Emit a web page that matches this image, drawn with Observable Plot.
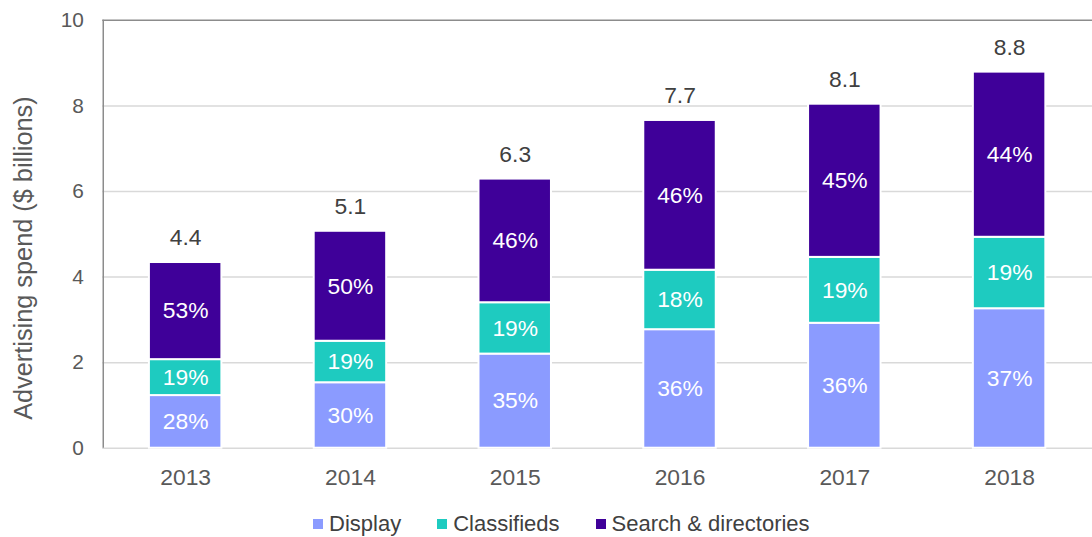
<!DOCTYPE html>
<html>
<head>
<meta charset="utf-8">
<script src="https://cdn.jsdelivr.net/npm/d3@7"></script>
<script src="https://cdn.jsdelivr.net/npm/@observablehq/plot@0.6"></script>
<style>
  html, body { margin: 0; padding: 0; background: #fff; overflow: hidden; width: 1092px; height: 537px; }
  #chart svg { display: block; }
  .legend { display: flex; align-items: center; padding-top: 21px; padding-left: 313px; font-family: "Liberation Sans", Arial, sans-serif; font-size: 22px; color: #404040; line-height: 24px; white-space: nowrap; }
  .legend .item { display: flex; align-items: center; margin-right: 36px; }
  .legend .sw { width: 10px; height: 10px; margin-right: 6px; display: inline-block; }
</style>
</head>
<body>
<div id="chart"></div>
<div class="legend" id="legend"></div>
<script>
const years = ["2013", "2014", "2015", "2016", "2017", "2018"];
const seriesNames = ["Display", "Classifieds", "Search & directories"];
const colors = ["#8b9bff", "#1ecbc0", "#3f0099"];
const display = [1.23, 1.53, 2.20, 2.77, 2.92, 3.26];
const classifieds = [0.84, 0.97, 1.20, 1.39, 1.54, 1.67];
const search = [2.27, 2.57, 2.89, 3.50, 3.58, 3.86];
const displayPct = ["28%", "30%", "35%", "36%", "36%", "37%"];
const classifiedsPct = ["19%", "19%", "19%", "18%", "19%", "19%"];
const searchPct = ["53%", "50%", "46%", "46%", "45%", "44%"];
const totals = [4.4, 5.1, 6.3, 7.7, 8.1, 8.8];
const yTicks = [0, 2, 4, 6, 8, 10];

const rows = [];
const seriesVals = [display, classifieds, search];
const seriesPcts = [displayPct, classifiedsPct, searchPct];
seriesNames.forEach((s, si) => {
  years.forEach((y, i) => {
    rows.push({year: y, series: s, value: seriesVals[si][i], pct: seriesPcts[si][i]});
  });
});
const totalRows = years.map((y, i) => ({
  year: y,
  top: display[i] + classifieds[i] + search[i],
  label: totals[i].toFixed(1)
}));

const font = "Liberation Sans, Arial, sans-serif";
const chart = Plot.plot({
  width: 1100,
  height: 495,
  marginLeft: 103,
  marginRight: 0,
  marginTop: 20,
  marginBottom: 44,
  style: {fontFamily: font, fontSize: "21px", color: "#595959", background: "#fff"},
  x: {domain: years, paddingInner: 0.56, paddingOuter: 0.28, label: null},
  y: {domain: [0, 10], label: null},
  color: {domain: seriesNames, range: colors},
  marks: [
    Plot.ruleY(yTicks.slice(0, -1), {stroke: "#d9d9d9", strokeWidth: 1.5}),
    Plot.ruleY([10], {stroke: "#8c8c8c", strokeWidth: 1.5}),
    Plot.ruleX([0], {x: () => years[0], dx: -83, y1: 0, y2: 10, stroke: "#8c8c8c", strokeWidth: 1.5}),
    Plot.axisY({ticks: yTicks, tickSize: 0, tickPadding: 19, fontSize: 21, fill: "#595959", label: null}),
    Plot.axisX({tickSize: 0, tickPadding: 21, fontSize: 23, fill: "#595959", label: null}),
    Plot.barY(rows, Plot.stackY({x: "year", y: "value", z: "series", fill: "series", stroke: "white", strokeWidth: 2})),
    Plot.text(rows, Plot.stackY({x: "year", y: "value", z: "series", text: "pct", fill: "white", fontSize: 23})),
    Plot.text(totalRows, {x: "year", y: "top", text: "label", dy: -25, fill: "#404040", fontSize: 23}),
    Plot.text(["Advertising spend ($ billions)"], {frameAnchor: "left", textAnchor: "middle", dx: -79, dy: 24, rotate: -90, fill: "#595959", fontSize: 25.5})
  ]
});
document.getElementById("chart").appendChild(chart);

const legend = document.getElementById("legend");
seriesNames.forEach((s, i) => {
  const item = document.createElement("span");
  item.className = "item";
  const sw = document.createElement("span");
  sw.className = "sw";
  sw.style.background = colors[i];
  item.appendChild(sw);
  item.appendChild(document.createTextNode(s));
  legend.appendChild(item);
});
</script>
</body>
</html>
